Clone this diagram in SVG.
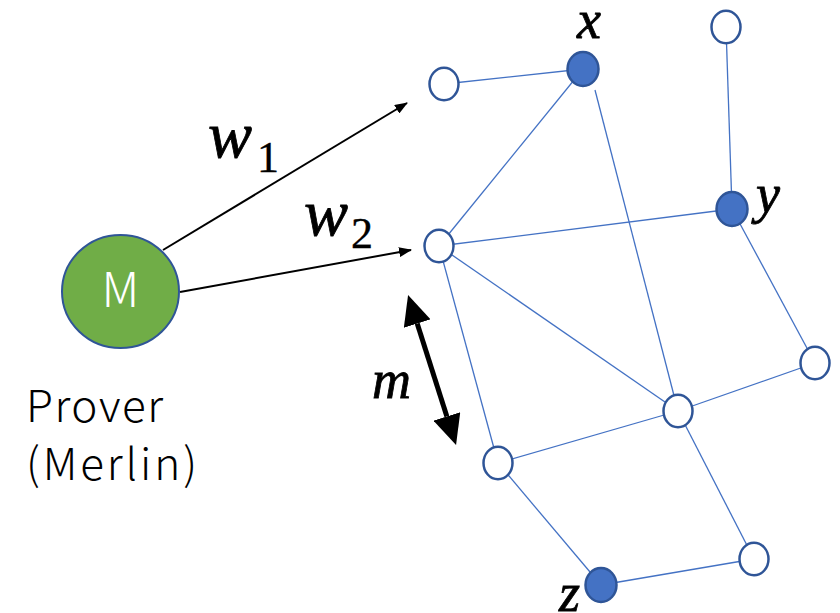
<svg xmlns="http://www.w3.org/2000/svg" width="840" height="613" viewBox="0 0 840 613">
<defs>
<style>
.edge{stroke:#4472C4;stroke-width:1.3;fill:none}
.open{fill:#FFFFFF;stroke:#2F5597;stroke-width:2.5}
.filled{fill:#4472C4;stroke:#2F5597;stroke-width:2.5}
.arr{stroke:#000;stroke-width:2;fill:none}
.math{font-family:"Liberation Serif","DejaVu Serif",serif;font-style:italic;fill:#000;stroke:#000;stroke-width:0.8}
.sub{font-family:"Liberation Serif","DejaVu Serif",serif;fill:#000;stroke:#000;stroke-width:0.4}
.jp{font-family:"Noto Sans CJK JP","Noto Sans",sans-serif;font-weight:300}
</style>
<marker id="ah" markerUnits="userSpaceOnUse" viewBox="0 0 13 10" markerWidth="13" markerHeight="10" refX="12" refY="5" orient="auto">
<path d="M0,0 L13,5 L0,10 z" fill="#000"/>
</marker>
<marker id="big" markerUnits="userSpaceOnUse" viewBox="0 0 30 28" markerWidth="30" markerHeight="28" refX="0" refY="14" orient="auto-start-reverse">
<path d="M0,0 L30,14 L0,28 z" fill="#000"/>
</marker>
</defs>
<rect width="840" height="613" fill="#FFFFFF"/>
<g id="connectors">
<line class="edge" x1="444" y1="84" x2="583" y2="69"/>
<line class="edge" x1="583" y1="69" x2="439" y2="246"/>
<line class="edge" x1="595" y1="90" x2="678" y2="411"/>
<line class="edge" x1="726" y1="27" x2="732" y2="209"/>
<line class="edge" x1="439" y1="246" x2="732" y2="209"/>
<line class="edge" x1="732" y1="209" x2="815" y2="363"/>
<line class="edge" x1="439" y1="246" x2="678" y2="411"/>
<line class="edge" x1="439" y1="246" x2="498" y2="463"/>
<line class="edge" x1="498" y1="463" x2="678" y2="411"/>
<line class="edge" x1="678" y1="411" x2="815" y2="363"/>
<line class="edge" x1="678" y1="411" x2="754" y2="559"/>
<line class="edge" x1="498" y1="463" x2="601" y2="585"/>
<line class="edge" x1="601" y1="585" x2="754" y2="559"/>
<line class="arr" x1="163" y1="250" x2="407" y2="103" marker-end="url(#ah)"/>
<line class="arr" x1="180" y1="292" x2="411" y2="250" marker-end="url(#ah)"/>
<line x1="417.2" y1="323.6" x2="446.9" y2="416.4" stroke="#000" stroke-width="5" marker-start="url(#big)" marker-end="url(#big)"/>
</g>
<g id="node-M">
<ellipse cx="120.5" cy="291.5" rx="58.5" ry="56.5" fill="#70AD47" stroke="#2F5597" stroke-width="2"/>
<text class="jp" x="120.5" y="307" font-size="48" fill="#FFFFFF" text-anchor="middle">M</text>
</g>
<g id="label-prover">
<text class="jp" x="26" y="422" font-size="44" fill="#000" textLength="137">Prover</text>
<text class="jp" x="26" y="480" font-size="44" fill="#000" textLength="171">(Merlin)</text>
</g>
<g id="node-a"><ellipse class="open" cx="444" cy="84" rx="14.5" ry="16.3"/></g>
<g id="node-x"><ellipse class="filled" cx="583" cy="69" rx="15.5" ry="17"/></g>
<g id="node-b"><ellipse class="open" cx="726" cy="27" rx="14.5" ry="16.3"/></g>
<g id="node-y"><ellipse class="filled" cx="732" cy="209" rx="15.5" ry="17"/></g>
<g id="node-c"><ellipse class="open" cx="439" cy="246" rx="14.5" ry="16.3"/></g>
<g id="node-d"><ellipse class="open" cx="815" cy="363" rx="14.5" ry="16.3"/></g>
<g id="node-e"><ellipse class="open" cx="678" cy="411" rx="14.5" ry="16.3"/></g>
<g id="node-f"><ellipse class="open" cx="498" cy="463" rx="14.5" ry="16.3"/></g>
<g id="node-g"><ellipse class="open" cx="754" cy="559" rx="14.5" ry="16.3"/></g>
<g id="node-z"><ellipse class="filled" cx="601" cy="585" rx="15.5" ry="17"/></g>
<g id="labels">
<text class="math" x="208" y="157" font-size="66">w</text>
<text class="sub" x="257" y="172" font-size="44">1</text>
<text class="math" x="304" y="235" font-size="66">w</text>
<text class="sub" x="351" y="248" font-size="44">2</text>
<text class="math" x="372" y="398" font-size="54">m</text>
<text class="math" x="577" y="38" font-size="54">x</text>
<text class="math" x="756" y="212" font-size="54">y</text>
<text class="math" x="559" y="611" font-size="54">z</text>
</g>
</svg>
